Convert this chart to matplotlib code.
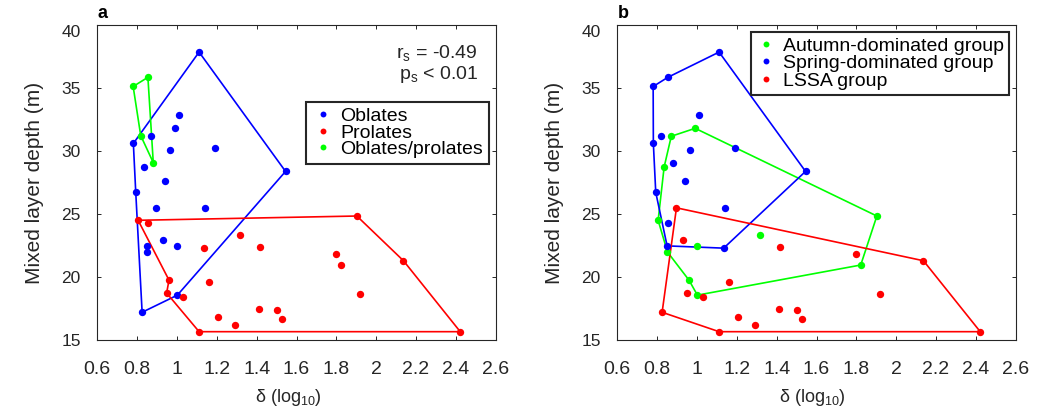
import matplotlib
matplotlib.use('Agg')
import matplotlib.pyplot as plt
from matplotlib.ticker import FuncFormatter, FixedLocator

plt.rcParams['font.family'] = ['Liberation Sans', 'DejaVu Sans']
plt.rcParams['mathtext.fontset'] = 'custom'
plt.rcParams['mathtext.rm'] = 'Liberation Sans'
plt.rcParams['mathtext.it'] = 'Liberation Sans:italic'
plt.rcParams['mathtext.bf'] = 'Liberation Sans:bold'

# ---- data: 44 samples (delta in log10, mixed layer depth in m) ----
delta = [1.111, 1.545, 1.008, 0.991, 0.871, 0.963, 1.190, 0.781, 0.835, 0.941,
         0.793, 0.897, 1.141, 0.929, 0.850, 0.852, 0.999, 1.002, 0.825,
         0.780, 0.854, 0.818, 0.881,
         0.805, 0.857, 1.318, 1.134, 1.415, 0.960, 1.163, 0.948, 1.031, 1.111,
         1.207, 1.289, 1.410, 1.502, 1.525, 1.903, 2.137, 2.422, 1.800, 1.822, 1.921]
depth = [37.85, 28.38, 32.86, 31.80, 31.17, 30.07, 30.24, 30.60, 28.72, 27.62,
         26.72, 25.49, 25.48, 22.93, 22.47, 21.98, 22.48, 18.56, 17.20,
         35.12, 35.85, 31.22, 29.08,
         24.50, 24.30, 23.31, 22.29, 22.39, 19.75, 19.63, 18.73, 18.44, 15.66,
         16.85, 16.17, 17.48, 17.35, 16.70, 24.84, 21.29, 15.66, 21.85, 20.95, 18.65]
# panel a: shape class (O = oblate, P = prolate, OP = oblate/prolate)
shape_class = ['O'] * 19 + ['OP'] * 4 + ['P'] * 21
# panel b: seasonal group (A = autumn, S = spring, L = LSSA)
season_group = ['S', 'S', 'S', 'A', 'A', 'S', 'S', 'S', 'A', 'S',
                'S', 'L', 'S', 'L', 'S', 'A', 'A', 'A', 'L',
                'S', 'S', 'S', 'S',
                'A', 'S', 'A', 'S', 'L', 'A', 'L', 'L', 'L', 'L',
                'L', 'L', 'L', 'L', 'L', 'A', 'L', 'L', 'L', 'A', 'L']

# boundary outlines: order of sample numbers (1-based) along each group's outline
shape_outline = {'O': [1, 2, 18, 19, 11, 8],
                 'OP': [20, 21, 23, 22],
                 'P': [24, 39, 40, 41, 33, 31, 29]}
season_outline = {'A': [5, 4, 39, 43, 18, 29, 16, 24, 9],
                  'S': [1, 2, 27, 15, 11, 8, 20, 21],
                  'L': [12, 40, 41, 33, 19]}

shape_names = ['Oblates', 'Prolates', 'Oblates/prolates']
shape_keys = ['O', 'P', 'OP']
season_names = ['Autumn-dominated group', 'Spring-dominated group', 'LSSA group']
season_keys = ['A', 'S', 'L']
stat_lines = ['r$_{\\mathrm{s}}$ = -0.49', 'p$_{\\mathrm{s}}$ < 0.01']
x_ticks = [0.6, 0.8, 1.0, 1.2, 1.4, 1.6, 1.8, 2.0, 2.2, 2.4, 2.6]
y_ticks = [15, 20, 25, 30, 35, 40]

col = {'O': '#0000ff', 'P': '#ff0000', 'OP': '#00ff00',
       'A': '#00ff00', 'S': '#0000ff', 'L': '#ff0000'}

W, H = 1037, 412
fig = plt.figure(figsize=(W / 100, H / 100), dpi=100)
axw = 398.4 / W
axh = 315 / H
bot = 72 / H
ax_a = fig.add_axes([97.3 / W, bot, axw, axh])
ax_b = fig.add_axes([617.3 / W, bot, axw, axh])


def draw(ax, classes, keys, names, outline):
    for k in keys:
        idx = [i - 1 for i in outline[k]] + [outline[k][0] - 1]
        ax.plot([delta[i] for i in idx], [depth[i] for i in idx], '-',
                color=col[k], lw=1.2, zorder=2)
    handles = []
    for k, nm in zip(keys, names):
        xs = [d for d, c in zip(delta, classes) if c == k]
        ys = [v for v, c in zip(depth, classes) if c == k]
        h, = ax.plot(xs, ys, 'o', color=col[k], ms=5.3, mec='none', zorder=3, label=nm)
        handles.append(h)
    return handles


def style(ax, xlab_x):
    ax.set_xlim(x_ticks[0], x_ticks[-1])
    ax.set_ylim(y_ticks[0], y_ticks[-1])
    ax.xaxis.set_major_locator(FixedLocator(x_ticks))
    ax.yaxis.set_major_locator(FixedLocator(y_ticks))
    ax.xaxis.set_major_formatter(FuncFormatter(lambda v, p: f'{v:g}'))
    ax.yaxis.set_major_formatter(FuncFormatter(lambda v, p: f'{v:g}'))
    ax.tick_params(direction='in', length=3, width=0.7, color='#262626',
                   top=True, right=True, labelcolor='#262626')
    ax.tick_params(axis='x', labelsize=14, pad=15)
    ax.tick_params(axis='y', labelsize=12.5, pad=12)
    for s in ax.spines.values():
        s.set_color('#262626')
        s.set_linewidth(0.8)
    ax.set_xlabel('δ (log$_{10}$)', fontsize=13, color='#262626')
    ax.xaxis.set_label_coords(xlab_x, -0.148)
    ax.set_ylabel('Mixed layer depth (m)', fontsize=15, color='#262626', labelpad=12)
    # top tick label hangs below the top edge, as in the original
    ax.yaxis.get_major_ticks()[-1].label1.set_verticalalignment('top')


def add_legend(ax, handles, anchor, bpad, hlen, tpad, lspace):
    lg = ax.legend(handles=handles, loc='upper right', bbox_to_anchor=anchor,
                   fontsize=14, frameon=True, fancybox=False, edgecolor='#262626',
                   framealpha=1, handlelength=hlen, handletextpad=tpad,
                   labelspacing=lspace, borderpad=bpad, borderaxespad=0, markerscale=0.8)
    lg.get_frame().set_linewidth(1.5)
    return lg


# panel a
ha = draw(ax_a, shape_class, shape_keys, shape_names, shape_outline)
style(ax_a, 0.48)
add_legend(ax_a, ha, (0.983, 0.757), 0.3, 1.23, 0.26, -0.05)
ax_a.text(0.956, 0.91, stat_lines[0], transform=ax_a.transAxes, ha='right', va='center',
          fontsize=14, color='#262626')
ax_a.text(0.956, 0.843, stat_lines[1], transform=ax_a.transAxes, ha='right', va='center',
          fontsize=14, color='#262626')

# panel b
hb = draw(ax_b, season_group, season_keys, season_names, season_outline)
style(ax_b, 0.49)
add_legend(ax_b, hb, (0.983, 0.978), 0.26, 1.03, 0.36, 0.0)

fig.text(98 / W, 1 - 14 / H, 'a', fontsize=13, fontweight='bold', va='center', ha='left')
fig.text(618 / W, 1 - 14 / H, 'b', fontsize=13, fontweight='bold', va='center', ha='left')

fig.savefig('out.png', dpi=100, facecolor='white')
